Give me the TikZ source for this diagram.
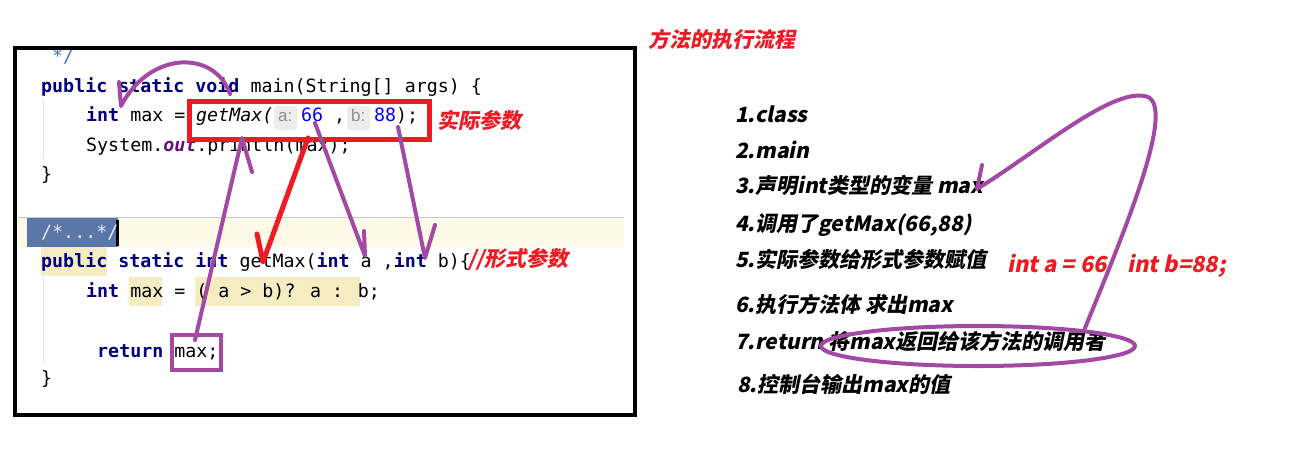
\documentclass[tikz,border=0pt]{standalone}
\usepackage{fontspec}
\newfontfamily\codefont{DejaVu Sans Mono}
\newfontfamily\hintfont{Liberation Sans}
\newfontfamily\cjkbi{Noto Sans CJK SC}[FakeSlant=0.2,BoldFeatures={FakeSlant=0.2}]
\usetikzlibrary{shapes.geometric}
\definecolor{pred}{HTML}{ED1C24}
\definecolor{ppurple}{HTML}{A349A4}
\definecolor{kwnavy}{HTML}{000080}
\definecolor{numblue}{HTML}{0000FF}
\definecolor{outpurple}{HTML}{660E7A}
\definecolor{cmtblue}{HTML}{3A77C6}
\definecolor{docbg}{HTML}{5B77A9}
\definecolor{doctext}{HTML}{E6ECF6}
\definecolor{bandyellow}{HTML}{FDF9E8}
\definecolor{hltan}{HTML}{F6ECC2}
\definecolor{hintbg}{HTML}{EDEDED}
\definecolor{hinttext}{HTML}{8C8C8C}
\definecolor{sepgray}{HTML}{C8C8C8}
\definecolor{guidegray}{HTML}{E2E2E2}
\newcommand{\kw}[1]{{\color{kwnavy}\bfseries #1}}
\tikzset{
  code/.style={anchor=base west, inner sep=0pt, font=\codefont\fontsize{18.3}{20}\selectfont},
  hint/.style={anchor=base west, inner sep=0pt, text=hinttext, font=\hintfont\fontsize{17}{18}\selectfont},
  hintbox/.style={fill=hintbg, rounded corners=3pt},
  note/.style={anchor=base west, inner sep=0pt, text=pred, font=\cjkbi\bfseries\fontsize{21}{22}\selectfont},
  listitem/.style={anchor=base west, inner sep=0pt, text=black, font=\cjkbi\bfseries\fontsize{21}{22}\selectfont},
  redval/.style={anchor=base west, inner sep=0pt, text=pred, font=\cjkbi\bfseries\fontsize{22}{23}\selectfont},
  pstroke/.style={draw=ppurple, line width=4pt, line cap=round, line join=round},
  rstroke/.style={draw=pred, line width=5pt, line cap=round, line join=round},
}
\begin{document}
\begin{tikzpicture}[x=1pt,y=-1pt]
\useasboundingbox[fill=white] (0,0) rectangle (1311,459);
% editor backgrounds
\fill[bandyellow] (18,217) rectangle (624,247);
\draw[sepgray, line width=1pt] (18,217) -- (624,217);
\fill[docbg] (27,218) rectangle (118,247);
\fill[black] (116,220) rectangle (119,246);
\fill[hltan] (41,247) rectangle (107,276);
\fill[hltan] (129,277) rectangle (162,306);
\fill[hltan] (195,277) rectangle (360,306);
\draw[guidegray, line width=1pt] (43,100) -- (43,158);
\draw[guidegray, line width=1pt] (43,277) -- (43,363);
% hint boxes
\fill[hintbox] (274,106) rectangle (297,130);
\fill[hintbox] (347,106) rectangle (370,130);
% code
\begin{scope}
\clip (17,50) rectangle (633,413);
\node[code, text=cmtblue] (c0) at (41,62) {\ */};
\end{scope}
\node[code] (c1) at (41,92) {\kw{public} \kw{static} \kw{void} main(String[] args) \{};
\node[code] (c2a) at (86,121) {\kw{int} max = };
\node[code] (c2b) at (196,121) {\itshape getMax(};
\node[hint] (c2c) at (278,121) {a:};
\node[code, text=numblue] (c2d) at (301,121) {66};
\node[code] (c2e) at (323,121) {\ ,};
\node[hint] (c2f) at (351,121) {b:};
\node[code, text=numblue] (c2g) at (374,121) {88};
\node[code] (c2h) at (396,121) {);};
\node[code] (c3) at (86,151) {System.{\color{outpurple}\itshape\bfseries out}.println(max);};
\node[code] (c4) at (41,180) {\}};
\node[code, text=doctext] (c5) at (41,238) {/*...*/};
\node[code] (c6) at (41,267) {\kw{public} \kw{static} \kw{int} getMax(\kw{int} a ,\kw{int} b)\{};
\node[note] (formal) at (468,266) {//形式参数};
\node[code] (c7) at (86,297) {\kw{int} max = ( a > b)? a : b;};
\node[code] (c8) at (86,357) {\ \kw{return} max;};
\node[code] (c9) at (41,384) {\}};
% frame
\draw[black, line width=4pt] (15,48) rectangle (635,415);
% boxes
\node[draw=pred, line width=4.5pt, anchor=north west, minimum width=240, minimum height=38, inner sep=0pt] (callbox) at (187,99) {};
\node[draw=ppurple, line width=4pt, anchor=north west, minimum width=49, minimum height=35, inner sep=0pt] (retbox) at (170,333) {};
% labels
\node[note] (actual) at (437,128) {实际参数};
\node[note] (title) at (648,47) {方法的执行流程};
% list
\node[listitem] (l1) at (735,122) {1.class};
\node[listitem] (l2) at (735,158) {2.main};
\node[listitem] (l3) at (735,193) {3.声明int类型的变量 max};
\node[listitem] (l4) at (735,231) {4.调用了getMax(66,88)};
\node[listitem] (l5) at (735,267) {5.实际参数给形式参数赋值};
\node[listitem] (l6) at (735,312) {6.执行方法体 求出max};
\node[listitem] (l7) at (735,349) {7.return 将max返回给该方法的调用者};
\node[listitem] (l8) at (737,392) {8.控制台输出max的值};
\node[redval] (va) at (1007,272) {int a = 66};
\node[redval] (vb) at (1127,272) {int b=88;};
% ellipse
\node[draw=ppurple, line width=4pt, ellipse, minimum width=314, minimum height=40, inner sep=0pt] (ell) at (978,346) {};
% connector coordinates
\coordinate (m1s) at (230,94);
\coordinate (m1t) at (121,106);
\coordinate (m1b) at (119,82);
\coordinate (r2s) at (195,340);
\coordinate (r2t) at (242,138);
\coordinate (r2b) at (252,172);
\coordinate (r3s) at (308,138);
\coordinate (r3t) at (263,262);
\coordinate (r3b) at (257,234);
\coordinate (a4s) at (315,123);
\coordinate (a4t) at (365,256);
\coordinate (a4b) at (364,231);
\coordinate (a5s) at (398,127);
\coordinate (a5t) at (425,258);
\coordinate (a5b) at (435,225);
\coordinate (e6s) at (1085,328);
\coordinate (e6m) at (1148,97);
\coordinate (e6t) at (977,189);
\coordinate (e6b) at (982,165);
% connectors
\draw[pstroke] (m1s) .. controls (215,50) and (150,50) .. (m1t) -- (m1b);
\draw[pstroke] (r2s) -- (r2t) -- (r2b);
\draw[rstroke] (r3s) -- (r3t) -- (r3b);
\draw[pstroke] (a4s) -- (a4t) -- (a4b);
\draw[pstroke] (a5s) -- (a5t) -- (a5b);
\draw[pstroke] (e6s) .. controls (1125,230) and (1175,110) .. (e6m) .. controls (1115,85) and (1040,150) .. (e6t) -- (e6b);
\end{tikzpicture}
\end{document}
